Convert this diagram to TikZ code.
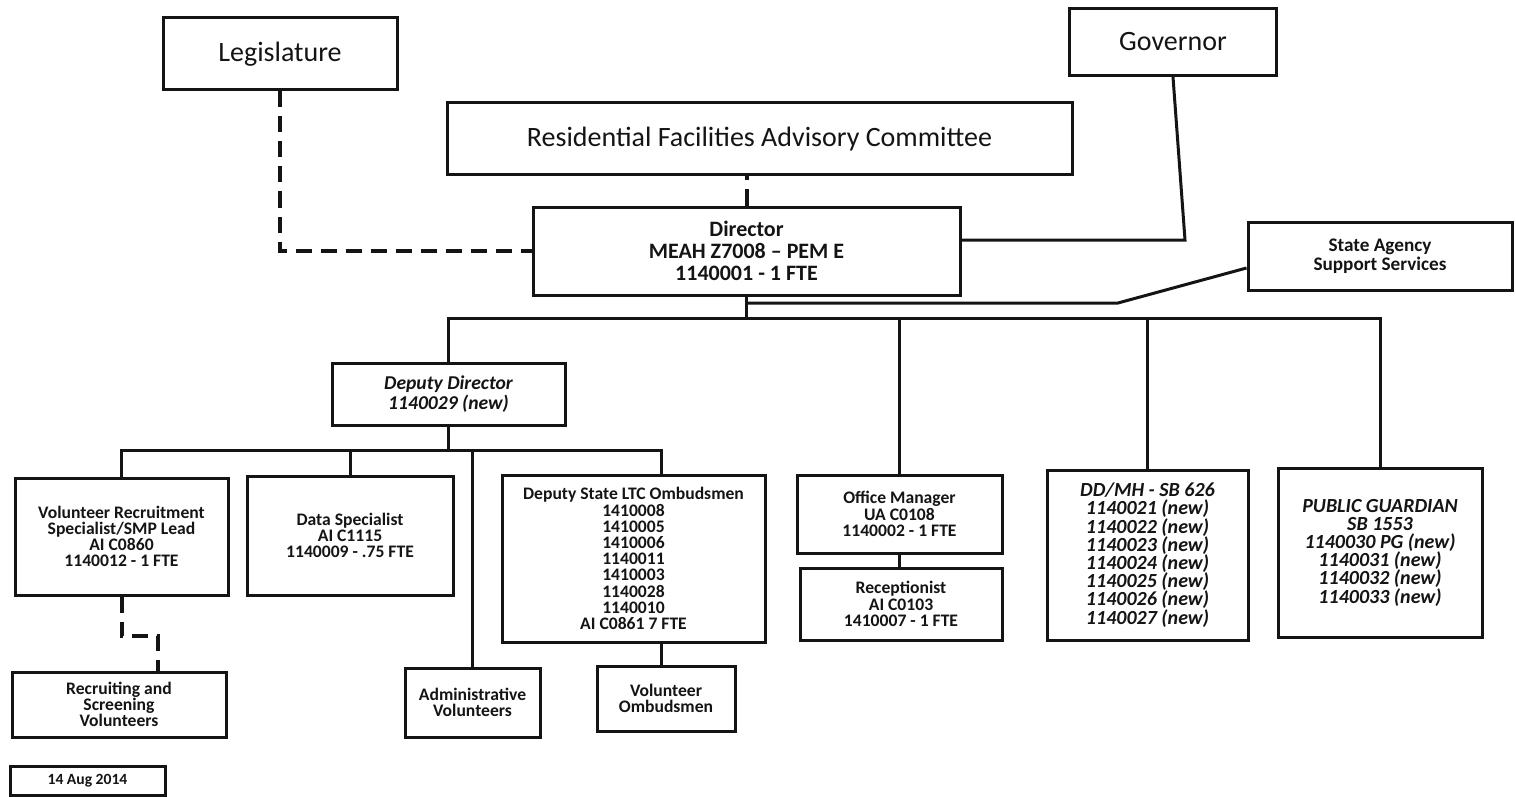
\documentclass[tikz,border=0pt]{standalone}
\usepackage{fontspec}
\setmainfont{Carlito}
\definecolor{inkblack}{rgb}{0.08, 0.08, 0.08}

\begin{document}
\begin{tikzpicture}[x=0.5pt, y=-0.5pt,
    box/.style={draw=inkblack, line width=1.5pt, align=center, inner sep=0pt, text=inkblack},
    top/.style={font=\fontsize{14}{15}\selectfont},
    head/.style={font=\bfseries\fontsize{11}{11}\selectfont},
    small/.style={font=\bfseries\fontsize{8.8}{8.1}\selectfont},
    newpos/.style={font=\bfseries\itshape\fontsize{10}{9.1}\selectfont},
    link/.style={draw=inkblack, line width=1.5pt},
    dashlink/.style={draw=inkblack, line width=2pt, dash pattern=on 8pt off 4.5pt}]
  \useasboundingbox (0,0) rectangle (1516,797);

  \node[box, top, minimum width=117pt, minimum height=36pt] (leg) at (280,54) {Legislature};
  \node[box, top, minimum width=103.5pt, minimum height=33.5pt] (gov) at (1173,42) {Governor};
  \node[box, top, minimum width=312.5pt, minimum height=36pt] (rfac) at (759.5,139) {Residential Facilities Advisory Committee};
  \node[box, head, minimum width=213.5pt, minimum height=44pt] (dir) at (746.5,251) {Director\\MEAH Z7008 -- PEM E\\1140001 - 1 FTE};
  \node[box, font=\bfseries\fontsize{9.6}{9.5}\selectfont, minimum width=132pt, minimum height=34pt] (sas) at (1380,256) {State Agency\\Support Services};
  \node[box, font=\bfseries\itshape\fontsize{9.8}{8.4}\selectfont, minimum width=116.5pt, minimum height=31pt] (dep) at (448.5,394) {Deputy Director\\1140029 (new)};

  \node[box, small, minimum width=106.5pt, minimum height=58.5pt] (vrs) at (121.5,536.5) {Volunteer Recruitment\\Specialist/SMP Lead\\AI C0860\\1140012 - 1 FTE};
  \node[box, small, minimum width=103pt, minimum height=59.5pt] (data) at (350,535.5) {Data Specialist\\AI C1115\\1140009 - .75 FTE};
  \node[box, small, minimum width=131.5pt, minimum height=83.5pt] (ltc) at (633.5,558.5) {Deputy State LTC Ombudsmen\\1410008\\1410005\\1410006\\1140011\\1410003\\1140028\\1140010\\AI C0861 7 FTE};
  \node[box, small, minimum width=102.5pt, minimum height=39pt] (off) at (899.5,514) {Office Manager\\UA C0108\\1140002 - 1 FTE};
  \node[box, small, minimum width=101pt, minimum height=36pt] (rec) at (901,604) {Receptionist\\AI C0103\\1410007 - 1 FTE};
  \node[box, newpos, minimum width=100.5pt, minimum height=85pt] (dd) at (1147.5,555) {DD/MH - SB 626\\1140021 (new)\\1140022 (new)\\1140023 (new)\\1140024 (new)\\1140025 (new)\\1140026 (new)\\1140027 (new)};
  \node[box, newpos, minimum width=102pt, minimum height=84.5pt] (pg) at (1380,552.5) {PUBLIC GUARDIAN\\SB 1553\\1140030 PG (new)\\1140031 (new)\\1140032 (new)\\1140033 (new)};

  \node[box, small, minimum width=107pt, minimum height=32.5pt] (rsv) at (119,704.5) {Recruiting and\\Screening\\Volunteers};
  \node[box, small, minimum width=67.5pt, minimum height=34.5pt] (adm) at (472.5,702.5) {Administrative\\Volunteers};
  \node[box, small, minimum width=69pt, minimum height=32.5pt] (vom) at (666,698.5) {Volunteer\\Ombudsmen};
  \node[box, font=\bfseries\fontsize{7.8}{8}\selectfont, minimum width=77.5pt, minimum height=14.5pt] (date) at (87.5,780.5) {14 Aug 2014};

  \coordinate (gbend) at (1185,240);
  \coordinate (sbend) at (1118,303);
  \coordinate (mbus) at (0,318);
  \coordinate (dbus) at (0,450);
  \coordinate (ltcdrop) at (661,0);
  \coordinate (vbend) at (158,636);

  \draw[dashlink] (leg.south) |- (dir.west);
  \draw[dashlink] (dir.north) -- (dir.north |- rfac.south);
  \draw[link] (gov.south) -- (gbend) -- (gbend -| dir.east);
  \draw[link] (dir.south) -- (dir.south |- mbus);
  \draw[link] (dir.south |- sbend) -- (sbend) -- ([yshift=-6pt]sas.west);
  \draw[link] (dep.north) -- (dep.north |- mbus) -- (pg.north |- mbus) -- (pg.north);
  \foreach \n in {off, dd}
    \draw[link] (\n.north) -- (\n.north |- mbus);

  \draw[link] (dep.south) -- (dep.south |- dbus);
  \draw[link] (vrs.north) -- (vrs.north |- dbus) -- (ltcdrop |- dbus) -- (ltcdrop |- ltc.north);
  \foreach \n in {data, adm}
    \draw[link] (\n.north) -- (\n.north |- dbus);
  \draw[link] (ltcdrop |- ltc.south) -- (ltcdrop |- vom.north);
  \draw[link] (off.south) -- (off.south |- rec.north);
  \draw[dashlink] (vrs.south) |- (vbend) -- (vbend |- rsv.north);
\end{tikzpicture}
\end{document}
